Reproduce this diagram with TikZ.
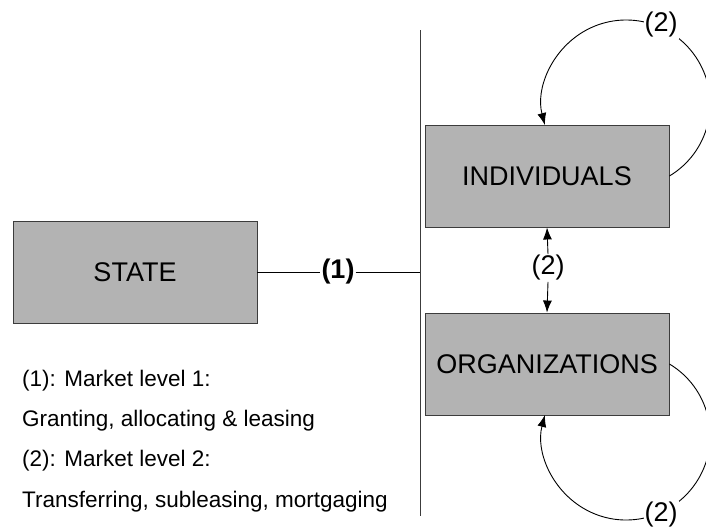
\documentclass[tikz,border=0pt]{standalone}
\usepackage{fontspec}
\setmainfont{Liberation Sans}
\usetikzlibrary{arrows.meta}
\definecolor{boxgray}{RGB}{179,179,179}
\definecolor{edgegray}{RGB}{60,60,60}
\begin{document}
\begin{tikzpicture}[x=1pt,y=1pt,
  actor/.style={draw=edgegray,line width=0.9pt,fill=boxgray,minimum width=244pt,minimum height=102pt,inner sep=0pt,font=\fontsize{27}{32}\selectfont},
  lbl/.style={font=\fontsize{27}{32}\selectfont,inner sep=1pt,fill=white},
  legend/.style={anchor=west,font=\fontsize{22.5}{27}\selectfont,inner sep=0pt},
  link/.style={line width=0.9pt,draw=black},
  tip/.style={-{Latex[length=12pt,width=9pt]}}]
\useasboundingbox (0,0) rectangle (706,-530);

% actors
\node[actor] (st)  at (135,-272) {STATE};
\node[actor] (ind) at (547,-176) {INDIVIDUALS};
\node[actor] (org) at (547,-364) {ORGANIZATIONS};

% divider between state and market participants
\coordinate (vtop) at (420,-30);
\coordinate (vbot) at (420,-516);
\draw[line width=0.9pt,draw=edgegray] (vtop) -- (vbot);

% level 1 market: state to participants
\node[lbl,font=\fontsize{27}{32}\selectfont\bfseries] (one) at (338,-272) {(1)};
\draw[link] (st.east) -- (one.west);
\draw[link] (one.east) -- (one -| vtop);

% level 2 market between individuals and organizations
\node[lbl] (mid) at (548,-268) {(2)};
\draw[link,tip] (mid.north) -- (ind.south);
\draw[link,tip] (mid.south) -- (org.north);

% level 2 market among individuals
\draw[link,tip] (ind.east) arc[start angle=-59,end angle=194.5,radius=84];
\node[lbl] (topl) at (661,-25) {(2)};

% level 2 market among organizations
\draw[link,tip] (org.east) arc[start angle=59,end angle=-194.5,radius=84];
\node[lbl] (botl) at (661,-515) {(2)};

% legend
\node[legend] (l1) at (22,-381) {(1): Market level 1:};
\node[legend] (l2) at (22,-421) {Granting, allocating \& leasing};
\node[legend] (l3) at (22,-461) {(2): Market level 2:};
\node[legend] (l4) at (22,-502) {Transferring, subleasing, mortgaging};
\end{tikzpicture}
\end{document}
